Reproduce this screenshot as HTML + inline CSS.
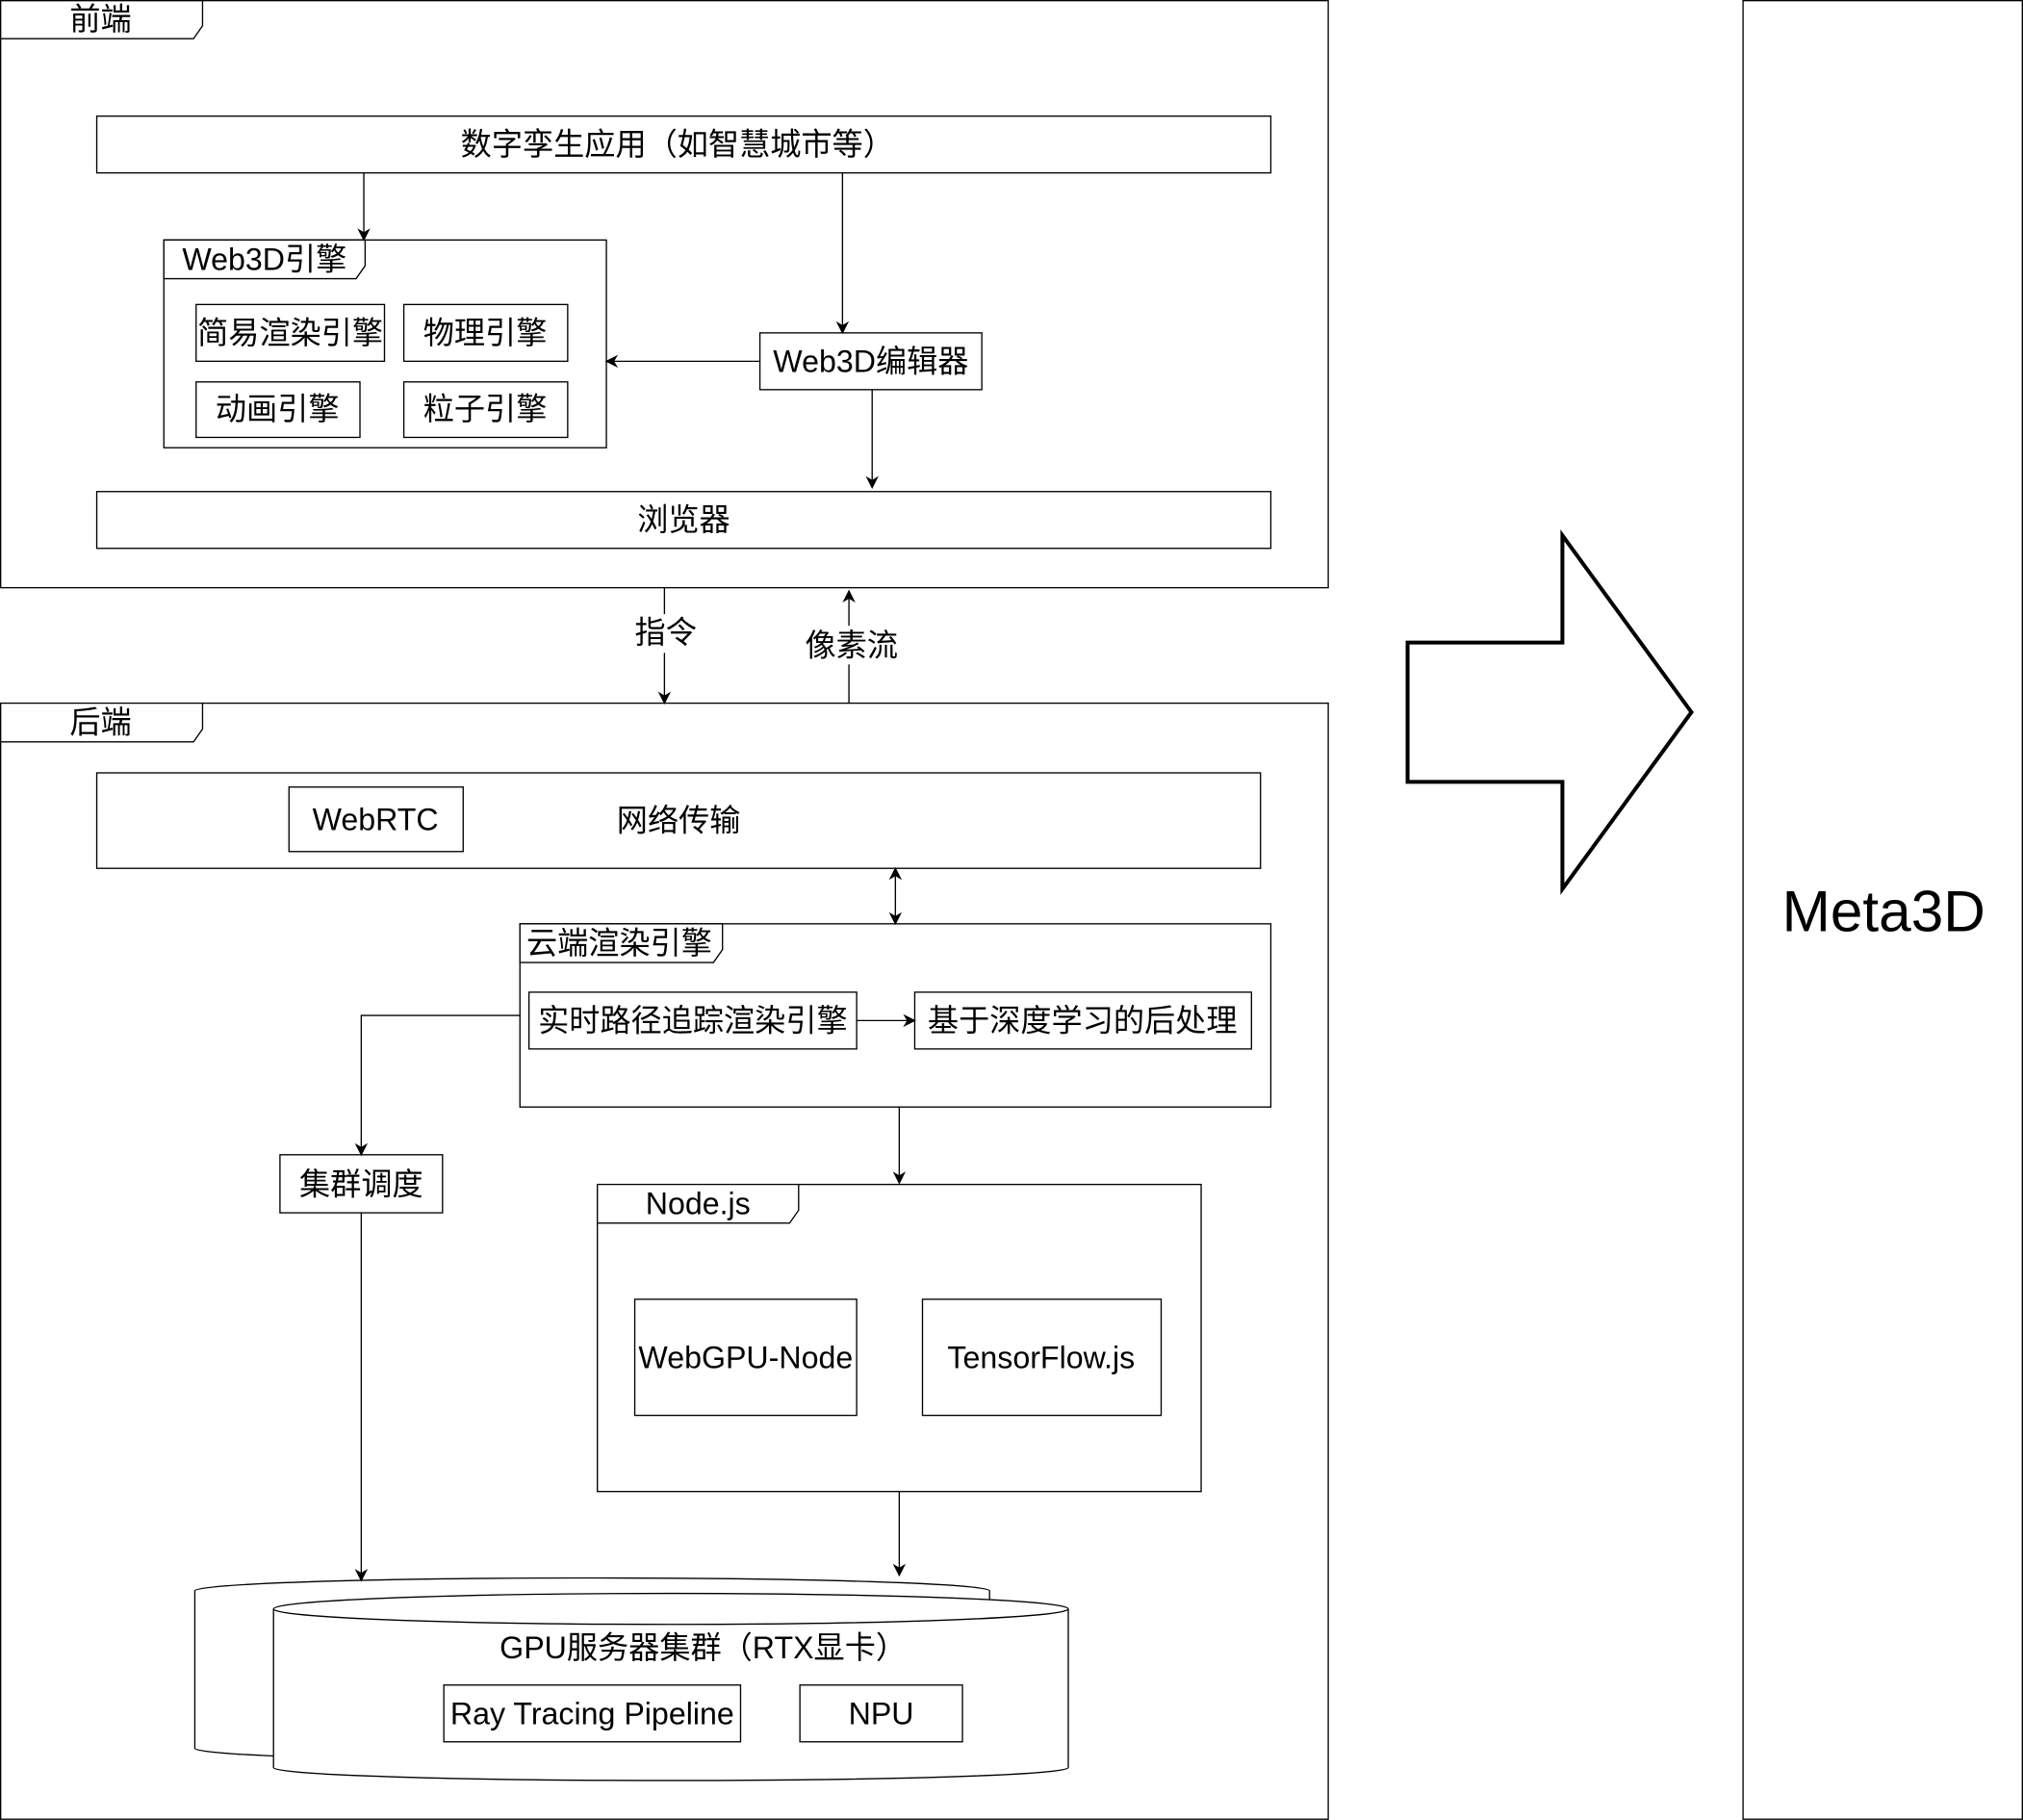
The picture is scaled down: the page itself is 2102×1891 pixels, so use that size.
<!DOCTYPE html>
<html><head><meta charset="utf-8"><style>
html,body{margin:0;padding:0;background:#fff;}
svg{display:block;}
text{font-family:"Liberation Sans","Noto Sans CJK SC",sans-serif;fill:#000;}
</style></head><body>
<svg width="2102" height="1891" viewBox="0 0 1568 1410.6" xmlns="http://www.w3.org/2000/svg">
<defs><marker id="a" markerWidth="10" markerHeight="10" refX="9" refY="5" orient="auto-start-reverse" markerUnits="userSpaceOnUse"><path d="M0,0 L10,5 L0,10 L3,5 z" fill="#000"/></marker></defs>
<g fill="#fff" stroke="#000" stroke-width="1">
<rect x="0.5" y="0.5" width="1029" height="455"/>
<polygon points="0.5,0.5 157,0.5 157,20 150,30 0.5,30"/>
<rect x="75" y="90" width="910" height="44"/>
<rect x="127" y="186" width="343" height="161"/>
<polygon points="127,186 283,186 283,206 276,216 127,216"/>
<rect x="152" y="236" width="146" height="44"/>
<rect x="313" y="236" width="127" height="44"/>
<rect x="152" y="296" width="127" height="43"/>
<rect x="313" y="296" width="127" height="43"/>
<rect x="589" y="258" width="172" height="44"/>
<rect x="75" y="381" width="910" height="44"/>
<rect x="0.5" y="545" width="1029" height="865"/>
<polygon points="0.5,545 157,545 157,565 150,575 0.5,575"/>
<rect x="75" y="599" width="902" height="74"/>
<rect x="224" y="610" width="135" height="50"/>
<rect x="403" y="716" width="582" height="142"/>
<polygon points="403,716 560,716 560,736 553,746 403,746"/>
<rect x="410" y="769" width="254" height="44"/>
<rect x="709" y="769" width="261" height="44"/>
<rect x="217" y="895" width="126" height="45"/>
<rect x="463" y="918" width="468" height="238"/>
<polygon points="463,918 619,918 619,938 612,948 463,948"/>
<rect x="492" y="1007" width="172" height="90"/>
<rect x="715" y="1007" width="185" height="90"/>
<path d="M151,1233 A308,10 0 0 1 767,1233 L767,1355 A308,10 0 0 1 151,1355 Z"/>
<path d="M212,1247 A308,12 0 0 1 828,1247 L828,1370 A308,10 0 0 1 212,1370 Z"/>
<path d="M212,1247 A308,12 0 0 0 828,1247" fill="none"/>
<rect x="344" y="1306" width="230" height="44"/>
<rect x="620" y="1306" width="126" height="44"/>
<rect x="1351" y="0.5" width="216.5" height="1409.5"/>
</g>
<polygon points="1091,498 1211,498 1211,415 1311,552 1211,689 1211,606 1091,606" fill="#fff" stroke="#000" stroke-width="3"/>
<g stroke="#000" stroke-width="1" fill="none" marker-end="url(#a)">
<line x1="282" y1="134" x2="282" y2="186"/>
<line x1="653" y1="134" x2="653" y2="258"/>
<line x1="589" y1="280" x2="470" y2="280"/>
<line x1="676" y1="302" x2="676" y2="378"/>
<line x1="515" y1="455" x2="515" y2="545"/>
<line x1="658" y1="545" x2="658" y2="458"/>
<line x1="694" y1="716" x2="694" y2="673" marker-start="url(#a)"/>
<line x1="664" y1="791" x2="709" y2="791"/>
<polyline points="403,787 280,787 280,895"/>
<line x1="697" y1="858" x2="697" y2="917"/>
<line x1="280" y1="940" x2="280" y2="1225"/>
<line x1="697" y1="1156" x2="697" y2="1221"/>
</g>
<g font-size="24" text-anchor="middle" dominant-baseline="central">
<text x="78" y="15">前端</text>
<text x="78" y="560">后端</text>
<text x="525" y="112">数字孪生应用（如智慧城市等）</text>
<text x="205" y="201">Web3D引擎</text>
<text x="225" y="258">简易渲染引擎</text>
<text x="376" y="258">物理引擎</text>
<text x="215" y="317">动画引擎</text>
<text x="376" y="317">粒子引擎</text>
<text x="675" y="280">Web3D编辑器</text>
<text x="530" y="403">浏览器</text>
<rect x="488" y="476" width="54" height="30" fill="#fff"/>
<text x="516" y="490">指令</text>
<rect x="620" y="485" width="78" height="30" fill="#fff"/>
<text x="660" y="500">像素流</text>
<text x="291" y="635">WebRTC</text>
<text x="526" y="636">网络传输</text>
<text x="480" y="731">云端渲染引擎</text>
<text x="537" y="791">实时路径追踪渲染引擎</text>
<text x="839" y="791">基于深度学习的后处理</text>
<text x="280" y="918">集群调度</text>
<text x="541" y="933">Node.js</text>
<text x="578" y="1052">WebGPU-Node</text>
<text x="807" y="1052">TensorFlow.js</text>
<text x="545" y="1277">GPU服务器集群（RTX显卡）</text>
<text x="459" y="1328">Ray Tracing Pipeline</text>
<text x="683" y="1328">NPU</text>
<text x="1460" y="706" font-size="45">Meta3D</text>
</g>
</svg>
</body></html>
